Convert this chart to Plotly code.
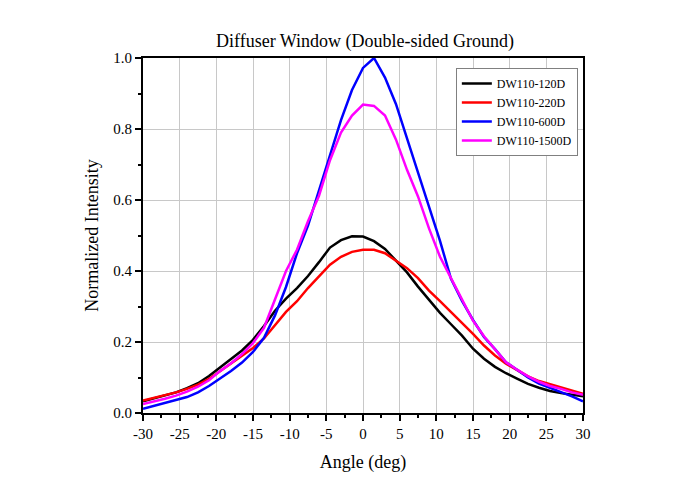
import plotly.graph_objects as go

# angles (deg), every 1.5 deg
angle = [-30, -28.5, -27, -25.5, -24, -22.5, -21, -19.5, -18, -16.5, -15, -13.5, -12, -10.5,
         -9, -7.5, -6, -4.5, -3, -1.5, 0, 1.5, 3, 4.5, 6, 7.5, 9, 10.5, 12, 13.5, 15, 16.5,
         18, 19.5, 21, 22.5, 24, 25.5, 27, 28.5, 30]

dw_120d = [0.033, 0.041, 0.049, 0.058, 0.070, 0.084, 0.104, 0.128, 0.150, 0.176, 0.206, 0.245,
           0.288, 0.322, 0.352, 0.386, 0.425, 0.466, 0.487, 0.498, 0.497, 0.484, 0.462, 0.428,
           0.396, 0.356, 0.318, 0.282, 0.250, 0.218, 0.181, 0.153, 0.130, 0.112, 0.097, 0.082,
           0.071, 0.062, 0.056, 0.051, 0.047]

dw_220d = [0.035, 0.042, 0.050, 0.058, 0.068, 0.080, 0.096, 0.118, 0.138, 0.160, 0.183, 0.210,
           0.248, 0.285, 0.315, 0.352, 0.385, 0.418, 0.440, 0.454, 0.460, 0.460, 0.450, 0.428,
           0.408, 0.380, 0.345, 0.315, 0.285, 0.255, 0.223, 0.190, 0.162, 0.139, 0.122, 0.103,
           0.090, 0.081, 0.072, 0.063, 0.054]

dw_600d = [0.012, 0.020, 0.028, 0.036, 0.045, 0.058, 0.076, 0.097, 0.118, 0.142, 0.172, 0.212,
           0.275, 0.355, 0.450, 0.528, 0.628, 0.730, 0.825, 0.910, 0.972, 1.000, 0.945, 0.870,
           0.775, 0.680, 0.585, 0.485, 0.378, 0.316, 0.262, 0.214, 0.180, 0.143, 0.122, 0.100,
           0.083, 0.070, 0.059, 0.047, 0.033]

dw_1500d = [0.025, 0.032, 0.040, 0.049, 0.060, 0.074, 0.092, 0.118, 0.140, 0.166, 0.197, 0.240,
            0.320, 0.400, 0.460, 0.540, 0.612, 0.712, 0.790, 0.838, 0.869, 0.865, 0.838, 0.770,
            0.685, 0.610, 0.520, 0.440, 0.380, 0.318, 0.260, 0.216, 0.180, 0.143, 0.122, 0.103,
            0.088, 0.076, 0.068, 0.058, 0.051]

series = [
    ("DW110-120D", dw_120d, "#000000"),
    ("DW110-220D", dw_220d, "#ff0000"),
    ("DW110-600D", dw_600d, "#0000ff"),
    ("DW110-1500D", dw_1500d, "#ff00ff"),
]

x_ticks = [-30, -25, -20, -15, -10, -5, 0, 5, 10, 15, 20, 25, 30]
x_tick_labels = ["-30", "-25", "-20", "-15", "-10", "-5", "0", "5", "10", "15", "20", "25", "30"]
y_ticks = [0.0, 0.2, 0.4, 0.6, 0.8, 1.0]
y_tick_labels = ["0.0", "0.2", "0.4", "0.6", "0.8", "1.0"]

font = "Liberation Serif, Times New Roman, serif"

fig = go.Figure()
for name, values, color in series:
    fig.add_trace(go.Scatter(x=angle, y=values, mode="lines", name=name,
                             line=dict(color=color, width=2.5)))

axis_common = dict(
    showline=True, linecolor="black", linewidth=2, mirror=True,
    ticks="outside", ticklen=6, tickwidth=1.5, tickcolor="black",
    showgrid=True, gridcolor="#c8c8c8", gridwidth=1,
    zeroline=False,
    tickfont=dict(family=font, size=15, color="black"),
)

fig.update_xaxes(
    range=[-30, 30], tickvals=x_ticks, ticktext=x_tick_labels,
    minor=dict(dtick=2.5, ticks="outside", ticklen=3, tickcolor="black", showgrid=False),
    title=dict(text="Angle (deg)", font=dict(family=font, size=18, color="black"), standoff=14),
    **axis_common,
)
fig.update_yaxes(
    range=[0, 1], tickvals=y_ticks, ticktext=y_tick_labels,
    minor=dict(dtick=0.1, ticks="outside", ticklen=3, tickcolor="black", showgrid=False),
    title=dict(text="Normalized Intensity", font=dict(family=font, size=18, color="black"), standoff=10),
    **axis_common,
)

# the page adds an 8px body margin, so margins are shifted to land the plot box where it should
fig.update_layout(
    width=700, height=498,
    margin=dict(l=135, r=125, t=50, b=93),
    paper_bgcolor="white", plot_bgcolor="white",
    title=dict(text="Diffuser Window (Double-sided Ground)", x=0.51, xanchor="center",
               y=0.935, yanchor="middle",
               font=dict(family=font, size=18, color="black")),
    legend=dict(x=0.711, y=0.972, xanchor="left", yanchor="top",
                bgcolor="white", bordercolor="#808080", borderwidth=1,
                font=dict(family=font, size=12, color="black"),
                tracegroupgap=0, itemwidth=30),
    showlegend=True,
)

fig.write_html("out.html")
